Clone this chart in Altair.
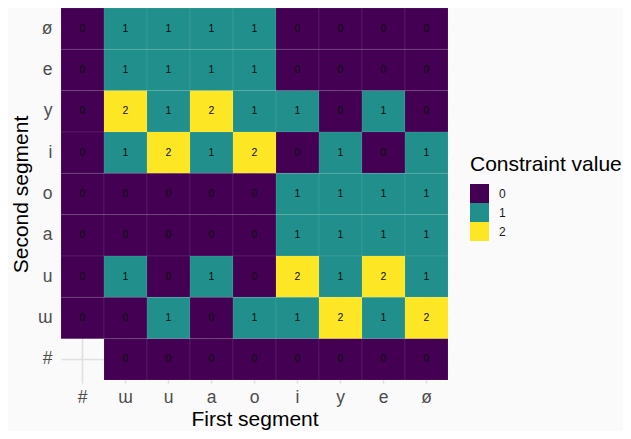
import altair as alt
import pandas as pd

first_segments = ["#", "ɯ", "u", "a", "o", "i", "y", "e", "ø"]
second_segments = ["ø", "e", "y", "i", "o", "a", "u", "ɯ", "#"]  # top to bottom

values = {
    "ø": [0, 1, 1, 1, 1, 0, 0, 0, 0],
    "e": [0, 1, 1, 1, 1, 0, 0, 0, 0],
    "y": [0, 2, 1, 2, 1, 1, 0, 1, 0],
    "i": [0, 1, 2, 1, 2, 0, 1, 0, 1],
    "o": [0, 0, 0, 0, 0, 1, 1, 1, 1],
    "a": [0, 0, 0, 0, 0, 1, 1, 1, 1],
    "u": [0, 1, 0, 1, 0, 2, 1, 2, 1],
    "ɯ": [0, 0, 1, 0, 1, 1, 2, 1, 2],
    "#": [None, 0, 0, 0, 0, 0, 0, 0, 0],
}

legend_levels = ["0", "1", "2"]
legend_colors = ["#440154", "#21908C", "#FDE725"]

rows = []
for s2 in second_segments:
    for s1, v in zip(first_segments, values[s2]):
        if v is None:
            continue
        rows.append({"first": s1, "second": s2, "value": str(v)})
df = pd.DataFrame(rows)

FONT = "Liberation Sans"

x_scale = alt.Scale(domain=first_segments, range=[4, 391], paddingInner=0, paddingOuter=0)
y_scale = alt.Scale(domain=second_segments, range=[0, 372], paddingInner=0, paddingOuter=0)

x_axis = alt.Axis(
    title="First segment", bandPosition=0.5, grid=True, ticks=False, domain=False, zindex=0,
    labelAngle=0, labelFontSize=17.5, labelColor="#4D4D4D", labelPadding=5,
    titleFontSize=21, titleFontWeight="normal", titleColor="#000000", titlePadding=3,
    gridColor="#E0E0E0", gridWidth=1.6,
)
y_axis = alt.Axis(
    title="Second segment", bandPosition=0.5, grid=True, ticks=False, domain=False, zindex=0,
    labelFontSize=17.5, labelColor="#4D4D4D", labelPadding=5,
    titleFontSize=21, titleFontWeight="normal", titleColor="#000000", titlePadding=6,
    gridColor="#E0E0E0", gridWidth=1.6,
)

x_enc = alt.X("first:N", sort=first_segments, scale=x_scale, axis=x_axis)
y_enc = alt.Y("second:N", sort=second_segments, scale=y_scale, axis=y_axis)

tiles = alt.Chart(df).mark_rect(
    opacity=1, stroke="white", strokeOpacity=0.12, strokeWidth=0.6
).encode(
    x=x_enc,
    y=y_enc,
    color=alt.Color(
        "value:N",
        scale=alt.Scale(domain=legend_levels, range=legend_colors),
        legend=alt.Legend(
            title="Constraint value", orient="none", legendX=413, legendY=146,
            titleFontSize=21, titleFontWeight="normal", titleColor="#000000", titlePadding=9,
            labelFontSize=12, labelColor="#1A1A1A", labelOffset=10,
            symbolType="square", symbolSize=361, symbolStrokeWidth=0, symbolOpacity=1,
            rowPadding=0, padding=0,
        ),
    ),
)

labels = alt.Chart(df).mark_text(fontSize=10.5, color="#0A0A0A", font=FONT).encode(
    x=x_enc,
    y=y_enc,
    text="value:N",
)

chart = (
    alt.layer(tiles, labels)
    .properties(
        width=395,
        height=375,
        autosize=alt.AutoSizeParams(type="none"),
        padding={"left": 49, "top": 0, "right": 171, "bottom": 48},
        background="#FAFAFA",
    )
    .configure(font=FONT)
    .configure_view(stroke=None)
)

chart.save("out.html", embed_options={"renderer": "svg", "actions": False})
